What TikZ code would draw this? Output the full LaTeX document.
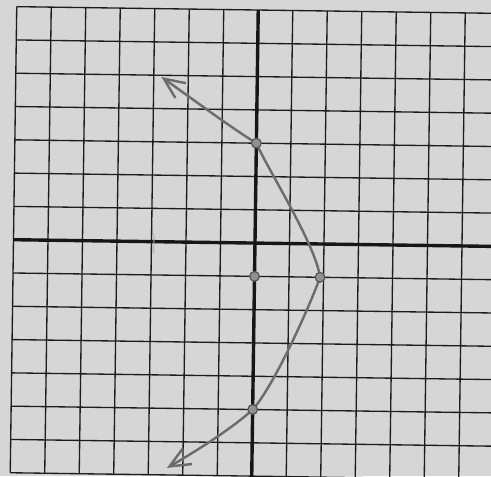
\documentclass[tikz,border=0pt]{standalone}
\usetikzlibrary{arrows.meta}
\definecolor{paper}{RGB}{214,214,214}
\definecolor{ink}{RGB}{28,28,28}
\definecolor{pencil}{RGB}{108,108,108}
\def\gmin{-7}
\def\gmax{7}

\begin{document}
\begin{tikzpicture}[x=1cm,y=0.965cm,>={Straight Barb[length=17pt,width=15pt]}]
\tikzset{
  gridline/.style={ink,line width=1.1pt},
  axisline/.style={ink!80!black,line width=2.8pt},
  curve/.style={pencil,line width=2pt,line cap=round,line join=round},
  dotpt/.style={circle,draw=ink!75,fill=pencil!75,line width=1pt,minimum size=8pt,inner sep=0pt}
}
\useasboundingbox[fill=paper] (-7.39,-7.0) rectangle (6.84,7.30);
\clip (-7.39,-7.0) rectangle (6.84,7.30);
\begin{scope}[rotate=-0.8]
% grid paper
\foreach \i in {-7,...,7} \draw[gridline] (\i,\gmin) -- (\i,\gmax);
\foreach \j in {-7,...,7} \draw[gridline] (\gmin,\j) -- (7.5,\j);
% axes
\draw[axisline] (0,\gmin) -- (0,\gmax);
\draw[axisline] (\gmin,0) -- (7.5,0);
\draw[pencil!55,line width=0.8pt] (-2.93,0.25) -- (-2.93,-0.36);
% points of the graph
\coordinate (ytop) at (0,3);
\coordinate (vert) at (1.9,-1);
\coordinate (axpt) at (0,-1);
\coordinate (ybot) at (0,-5);
\coordinate (endup) at (-2.78,4.95);
\coordinate (enddown) at (-2.46,-6.79);
\draw[curve,<->] (endup) .. controls (-1.8,4.25) and (-0.8,3.5) .. (ytop)
  .. controls (0.35,2.2) and (1.75,0) .. (vert)
  .. controls (1.6,-1.9) and (0.6,-4.3) .. (ybot)
  .. controls (-0.5,-5.5) and (-1.5,-6.2) .. (enddown);
\node[dotpt] (p1) at (ytop) {};
\node[dotpt] (p2) at (vert) {};
\node[dotpt] (p3) at (axpt) {};
\node[dotpt] (p4) at (ybot) {};
\end{scope}
\end{tikzpicture}
\end{document}
